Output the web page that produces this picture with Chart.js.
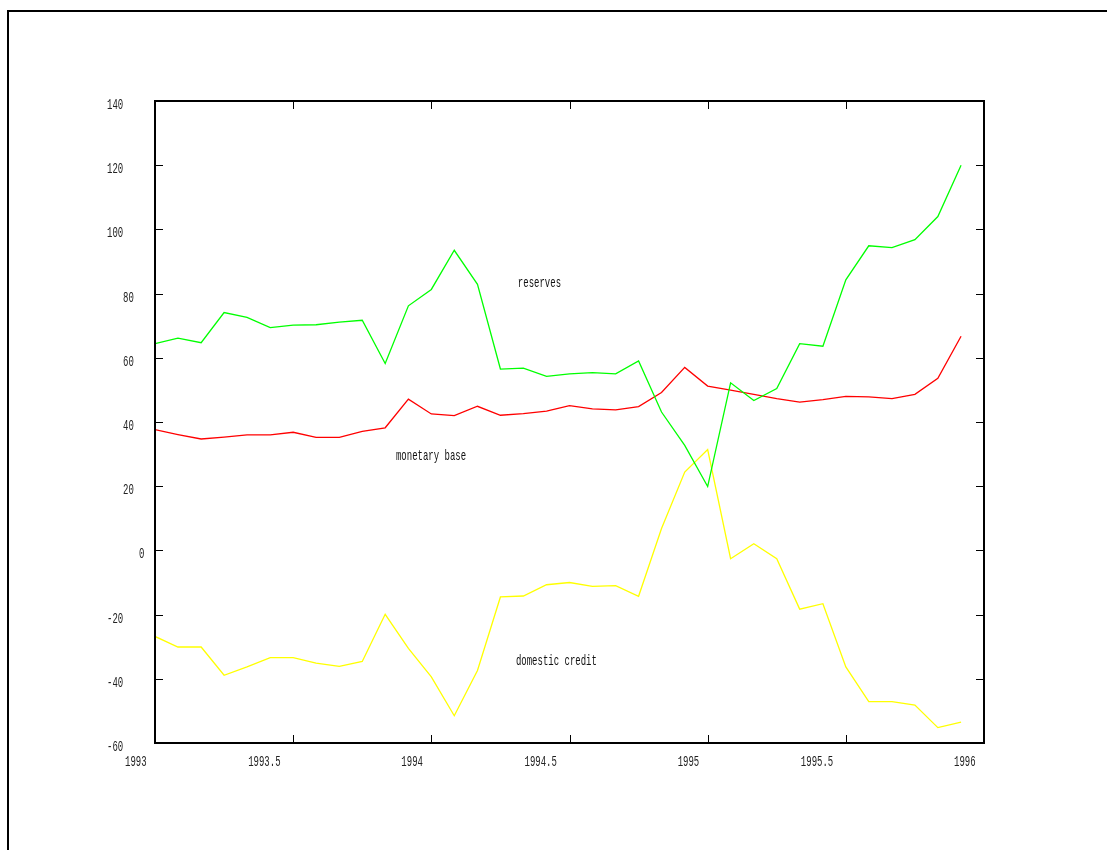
<!DOCTYPE html>
<html>
<head>
<meta charset="utf-8">
<script src="https://cdn.jsdelivr.net/npm/chart.js@4"></script>
<style>
  html, body { margin: 0; padding: 0; background: #fff; }
  canvas { display: block; }
</style>
</head>
<body>
<canvas id="chart" width="1107" height="850"></canvas>
<script>
// monthly observations, Jan 1993 .. Dec 1995
const months = [
  1993.000, 1993.083, 1993.167, 1993.250, 1993.333, 1993.417,
  1993.500, 1993.583, 1993.667, 1993.750, 1993.833, 1993.917,
  1994.000, 1994.083, 1994.167, 1994.250, 1994.333, 1994.417,
  1994.500, 1994.583, 1994.667, 1994.750, 1994.833, 1994.917,
  1995.000, 1995.083, 1995.167, 1995.250, 1995.333, 1995.417,
  1995.500, 1995.583, 1995.667, 1995.750, 1995.833, 1995.917
];
const reserves = [
  64.4, 66.1, 64.7, 74.1, 72.6, 69.4, 70.2, 70.3, 71.1, 71.7, 58.2, 76.2,
  81.3, 93.5, 82.9, 56.5, 56.8, 54.2, 55.0, 55.4, 55.0, 59.0, 43.1, 32.7,
  19.9, 52.2, 46.7, 50.4, 64.4, 63.6, 84.3, 94.9, 94.3, 96.8, 104.0, 120.0
];
const monetaryBase = [
  37.6, 36.1, 34.7, 35.3, 36.0, 36.0, 36.8, 35.2, 35.2, 37.1, 38.2, 47.1,
  42.5, 42.0, 44.9, 42.1, 42.6, 43.4, 45.1, 44.1, 43.8, 44.8, 49.2, 57.0,
  51.2, 49.9, 48.6, 47.3, 46.2, 47.0, 48.0, 47.8, 47.3, 48.6, 53.6, 66.7
];
const domesticCredit = [
  -26.8, -30.1, -30.1, -38.9, -36.3, -33.4, -33.4, -35.1, -36.1, -34.6, -19.9, -30.5,
  -39.4, -51.5, -37.4, -14.5, -14.2, -10.7, -10.0, -11.2, -11.0, -14.3, 6.8, 24.4,
  31.4, -2.6, 2.1, -2.6, -18.3, -16.6, -36.3, -47.1, -47.1, -48.2, -55.2, -53.5
];
const xTicks = [1993, 1993.5, 1994, 1994.5, 1995, 1995.5, 1996];
const yTicks = [-60, -40, -20, 0, 20, 40, 60, 80, 100, 120, 140];
// in-plot text labels, placed in data coordinates
const notes = [
  { text: 'reserves',        x: 1994.313, y: 83.2 },
  { text: 'monetary base',   x: 1993.872, y: 29.3 },
  { text: 'domestic credit', x: 1994.306, y: -34.5 }
];

const pts = vals => vals.map((v, i) => ({ x: months[i], y: v }));

const FONT = '15px "Liberation Mono", "DejaVu Sans Mono", monospace';
const SQUEEZE = 0.6;

function squeezedText(ctx, str, left, midY) {
  ctx.save();
  ctx.translate(left, midY);
  ctx.scale(SQUEEZE, 1);
  ctx.textAlign = 'left';
  ctx.textBaseline = 'middle';
  ctx.fillText(str, 0, 0);
  ctx.restore();
}

const frame = {
  id: 'frame',
  afterDraw(chart) {
    const { ctx, chartArea: a, scales: { x, y } } = chart;
    ctx.save();
    ctx.strokeStyle = '#000';

    // outer page frame
    ctx.lineWidth = 2;
    ctx.beginPath();
    ctx.moveTo(8, 860); ctx.lineTo(8, 11); ctx.lineTo(1120, 11);
    ctx.stroke();

    // plot border
    ctx.lineWidth = 2;
    ctx.strokeRect(a.left, a.top, a.right - a.left, a.bottom - a.top);

    // ticks, inward on all four sides
    ctx.lineWidth = 1;
    ctx.beginPath();
    xTicks.forEach(t => {
      const px = Math.round(x.getPixelForValue(t)) + 0.5;
      ctx.moveTo(px, a.bottom); ctx.lineTo(px, a.bottom - 8);
      ctx.moveTo(px, a.top);    ctx.lineTo(px, a.top + 8);
    });
    yTicks.forEach(t => {
      const py = Math.round(y.getPixelForValue(t)) + 0.5;
      ctx.moveTo(a.left, py);  ctx.lineTo(a.left + 8, py);
      ctx.moveTo(a.right, py); ctx.lineTo(a.right - 8, py);
    });
    ctx.stroke();

    // tick labels
    ctx.fillStyle = '#222';
    ctx.font = FONT;
    xTicks.forEach(t => {
      const s = String(t);
      squeezedText(ctx, s, x.getPixelForValue(t) - 7.5 * s.length, a.bottom + 19);
    });
    yTicks.forEach(t => {
      const s = String(t);
      squeezedText(ctx, s, a.left - 16 * s.length, y.getPixelForValue(t) + 4);
    });

    // series labels
    ctx.fillStyle = '#111';
    notes.forEach(n => squeezedText(ctx, n.text, x.getPixelForValue(n.x), y.getPixelForValue(n.y)));
    ctx.restore();
  }
};

new Chart(document.getElementById('chart'), {
  type: 'line',
  data: {
    datasets: [
      { label: 'reserves',        data: pts(reserves),       borderColor: '#00ff00' },
      { label: 'monetary base',   data: pts(monetaryBase),   borderColor: '#ff0000' },
      { label: 'domestic credit', data: pts(domesticCredit), borderColor: '#ffff00' }
    ]
  },
  options: {
    responsive: false,
    animation: false,
    layout: { padding: { left: 155, top: 101, right: 123, bottom: 107 } },
    elements: {
      line: { borderWidth: 1.3, tension: 0, fill: false },
      point: { radius: 0, hoverRadius: 0 }
    },
    scales: {
      x: { type: 'linear', min: 1993, max: 1996, display: false },
      y: { type: 'linear', min: -60, max: 140, display: false }
    },
    plugins: { legend: { display: false }, tooltip: { enabled: false } }
  },
  plugins: [frame]
});
</script>
</body>
</html>
